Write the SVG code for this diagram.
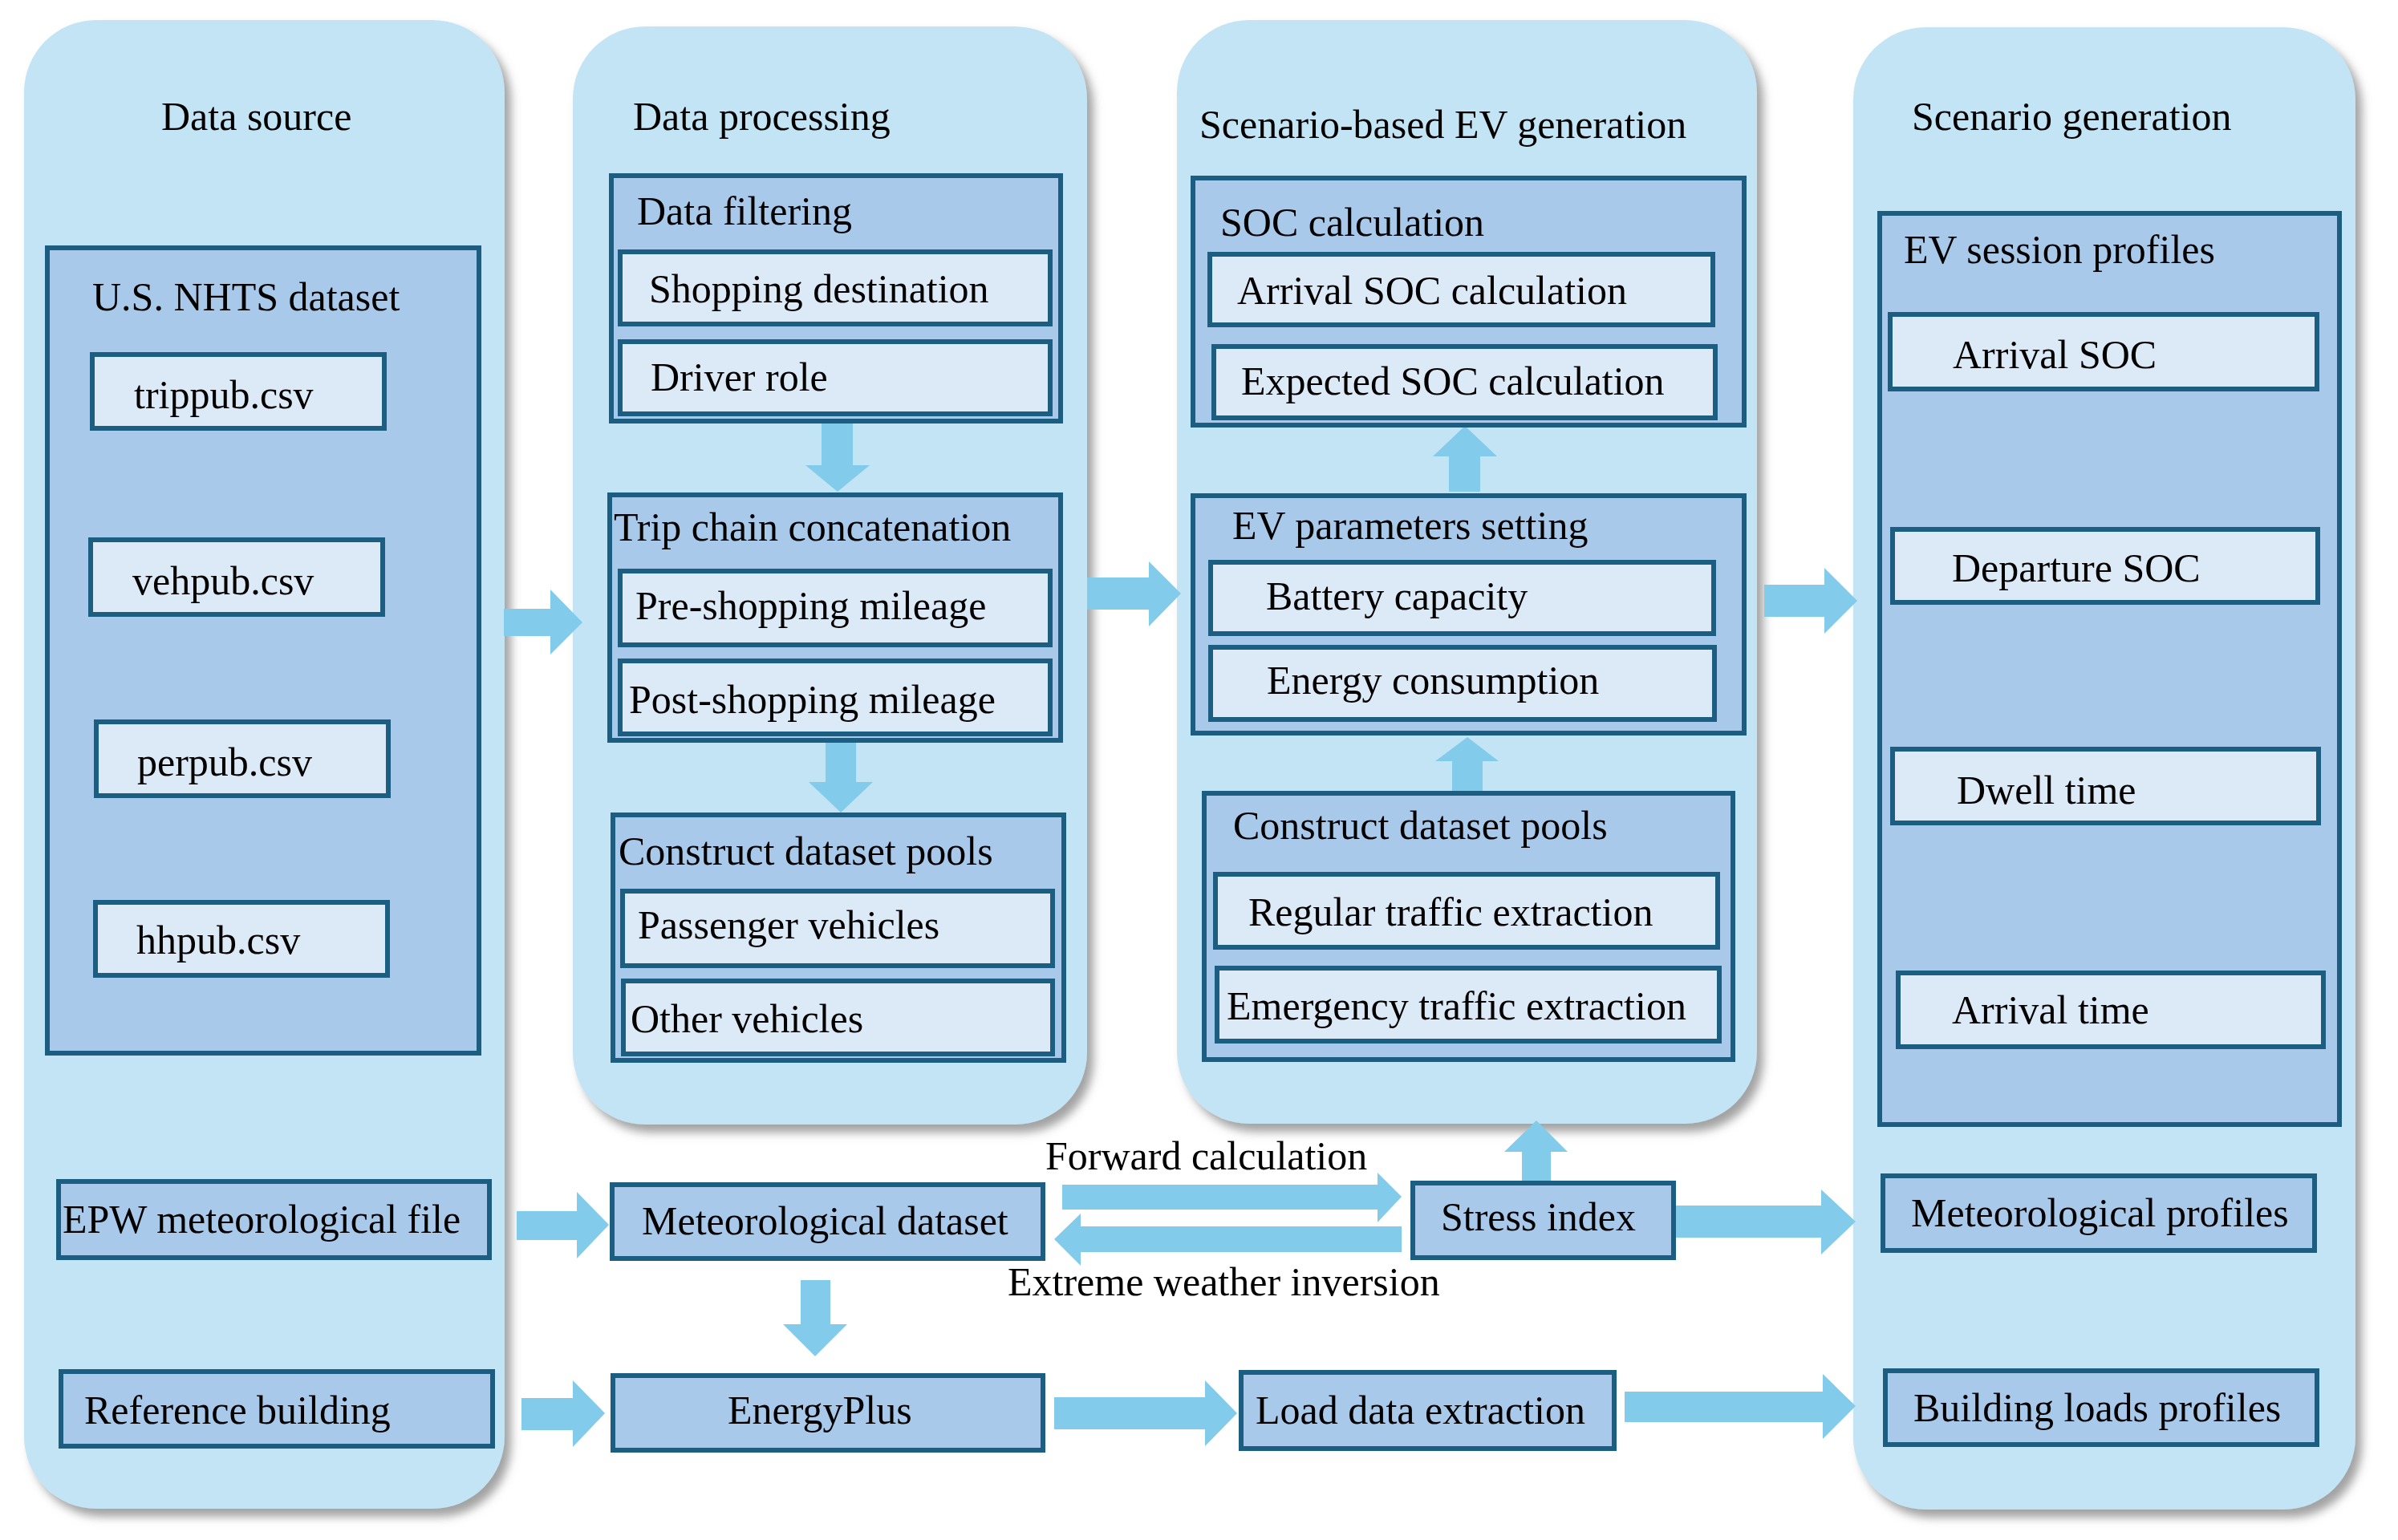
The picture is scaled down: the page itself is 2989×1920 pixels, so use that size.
<svg xmlns="http://www.w3.org/2000/svg" width="2989" height="1920" viewBox="0 0 2989 1920">
<defs>
<filter id="sh" x="-10%" y="-10%" width="125%" height="125%">
<feDropShadow dx="8" dy="10" stdDeviation="6" flood-color="#6f6f6f" flood-opacity="0.65"/>
</filter>
<style>
.col{fill:#C2E4F4;filter:url(#sh)}
.mid{fill:#A8C9EA;stroke:#1B5E82;stroke-width:6}
.lt{fill:#DCE9F6;stroke:#1B5E82;stroke-width:6}
.arr{fill:#83CBEA}
text{font-family:"Liberation Serif","Times New Roman",serif;font-size:50px;fill:#000}
</style>
</defs>
<rect width="2989" height="1920" fill="#ffffff"/>

<g id="col-data-source"><rect class="col" x="30" y="25" width="599" height="1856" rx="90"/><text x="201" y="162">Data source</text></g>
<g id="col-data-processing"><rect class="col" x="714" y="33" width="641" height="1369" rx="90"/><text x="789" y="162">Data processing</text></g>
<g id="col-ev-generation"><rect class="col" x="1467" y="25" width="723" height="1376" rx="90"/><text x="1495" y="172">Scenario-based EV generation</text></g>
<g id="col-scenario-generation"><rect class="col" x="2310" y="34" width="626" height="1848" rx="90"/><text x="2383" y="162">Scenario generation</text></g>

<g id="connectors">
<polygon class="arr" points="628,759 686,759 686,735 726,776 686,816 686,793 628,793"/>
<polygon class="arr" points="1355,720 1432,720 1432,700 1472,740 1432,781 1432,760 1355,760"/>
<polygon class="arr" points="2199,729 2274,729 2274,708 2315,749 2274,790 2274,769 2199,769"/>
<polygon class="arr" points="1024,528 1063,528 1063,580 1084,580 1044,613 1004,580 1024,580"/>
<polygon class="arr" points="1029,926 1067,926 1067,975 1088,975 1048,1013 1008,975 1029,975"/>
<polygon class="arr" points="1806,613 1845,613 1845,569 1866,569 1826,531 1786,569 1806,569"/>
<polygon class="arr" points="1810,986 1848,986 1848,949 1868,949 1829,919 1789,949 1810,949"/>
<polygon class="arr" points="644,1510 719,1510 719,1486 759,1527 719,1569 719,1546 644,1546"/>
<polygon class="arr" points="650,1743 714,1743 714,1721 754,1762 714,1804 714,1783 650,1783"/>
<polygon class="arr" points="998,1596 1035,1596 1035,1651 1056,1651 1016,1691 976,1651 998,1651"/>
<polygon class="arr" points="1324,1477 1717,1477 1717,1462 1747,1492 1717,1524 1717,1508 1324,1508"/>
<polygon class="arr" points="1747,1529 1347,1529 1347,1513 1314,1545 1347,1578 1347,1561 1747,1561"/>
<polygon class="arr" points="1897,1472 1933,1472 1933,1436 1954,1436 1915,1397 1875,1436 1897,1436"/>
<polygon class="arr" points="2089,1503 2270,1503 2270,1483 2313,1523 2270,1564 2270,1543 2089,1543"/>
<polygon class="arr" points="1314,1742 1502,1742 1502,1721 1542,1762 1502,1803 1502,1782 1314,1782"/>
<polygon class="arr" points="2025,1735 2272,1735 2272,1713 2313,1753 2272,1794 2272,1773 2025,1773"/>
<text x="1303" y="1458">Forward calculation</text>
<text x="1256" y="1615">Extreme weather inversion</text>
</g>

<g id="nhts"><rect class="mid" x="59" y="309" width="538" height="1004"/><text x="115" y="387">U.S. NHTS dataset</text></g>
<g id="trippub"><rect class="lt" x="115" y="442" width="364" height="92"/><text x="167" y="509">trippub.csv</text></g>
<g id="vehpub"><rect class="lt" x="113" y="673" width="364" height="93"/><text x="165" y="741">vehpub.csv</text></g>
<g id="perpub"><rect class="lt" x="120" y="900" width="364" height="92"/><text x="171" y="967">perpub.csv</text></g>
<g id="hhpub"><rect class="lt" x="119" y="1125" width="364" height="91"/><text x="170" y="1189">hhpub.csv</text></g>
<g id="epw"><rect class="mid" x="73" y="1473" width="537" height="95"/><text x="78" y="1537">EPW meteorological file</text></g>
<g id="refbuilding"><rect class="mid" x="76" y="1710" width="538" height="93"/><text x="105" y="1775">Reference building</text></g>

<g id="filtering"><rect class="mid" x="762" y="219" width="560" height="306"/><text x="794" y="280">Data filtering</text></g>
<g id="shopping"><rect class="lt" x="773" y="314" width="536" height="90"/><text x="809" y="377">Shopping destination</text></g>
<g id="driver"><rect class="lt" x="773" y="426" width="536" height="90"/><text x="811" y="487">Driver role</text></g>
<g id="tripchain"><rect class="mid" x="760" y="617" width="562" height="306"/><text x="765" y="674">Trip chain concatenation</text></g>
<g id="preshop"><rect class="lt" x="773" y="712" width="536" height="92"/><text x="792" y="772">Pre-shopping mileage</text></g>
<g id="postshop"><rect class="lt" x="773" y="824" width="536" height="91"/><text x="784" y="889">Post-shopping mileage</text></g>
<g id="pools2"><rect class="mid" x="764" y="1016" width="562" height="306"/><text x="771" y="1078">Construct dataset pools</text></g>
<g id="passenger"><rect class="lt" x="776" y="1111" width="536" height="93"/><text x="795" y="1170">Passenger vehicles</text></g>
<g id="other"><rect class="lt" x="777" y="1223" width="535" height="91"/><text x="786" y="1287">Other vehicles</text></g>

<g id="metdataset"><rect class="mid" x="763" y="1477" width="537" height="92"/><text x="800" y="1539">Meteorological dataset</text></g>
<g id="energyplus"><rect class="mid" x="764" y="1715" width="536" height="93"/><text x="907" y="1775">EnergyPlus</text></g>
<g id="stress"><rect class="mid" x="1761" y="1475" width="325" height="93"/><text x="1796" y="1534">Stress index</text></g>
<g id="loadextract"><rect class="mid" x="1547" y="1711" width="465" height="95"/><text x="1565" y="1775">Load data extraction</text></g>

<g id="soc"><rect class="mid" x="1487" y="222" width="687" height="308"/><text x="1521" y="294">SOC calculation</text></g>
<g id="arrsoc"><rect class="lt" x="1508" y="317" width="627" height="88"/><text x="1542" y="379">Arrival SOC calculation</text></g>
<g id="expsoc"><rect class="lt" x="1513" y="432" width="625" height="89"/><text x="1547" y="492">Expected SOC calculation</text></g>
<g id="evparams"><rect class="mid" x="1487" y="618" width="687" height="296"/><text x="1536" y="672">EV parameters setting</text></g>
<g id="battery"><rect class="lt" x="1509" y="701" width="627" height="89"/><text x="1578" y="760">Battery capacity</text></g>
<g id="energycons"><rect class="lt" x="1509" y="807" width="628" height="90"/><text x="1579" y="865">Energy consumption</text></g>
<g id="pools3"><rect class="mid" x="1501" y="989" width="659" height="332"/><text x="1537" y="1046">Construct dataset pools</text></g>
<g id="regular"><rect class="lt" x="1515" y="1090" width="626" height="91"/><text x="1556" y="1154">Regular traffic extraction</text></g>
<g id="emergency"><rect class="lt" x="1517" y="1207" width="626" height="91"/><text x="1529" y="1271">Emergency traffic extraction</text></g>

<g id="evsession"><rect class="mid" x="2343" y="266" width="573" height="1136"/><text x="2373" y="328">EV session profiles</text></g>
<g id="arrivalsoc"><rect class="lt" x="2356" y="392" width="532" height="93"/><text x="2434" y="459">Arrival SOC</text></g>
<g id="departuresoc"><rect class="lt" x="2359" y="660" width="530" height="91"/><text x="2433" y="725">Departure SOC</text></g>
<g id="dwell"><rect class="lt" x="2359" y="934" width="531" height="92"/><text x="2439" y="1002">Dwell time</text></g>
<g id="arrtime"><rect class="lt" x="2366" y="1213" width="530" height="92"/><text x="2433" y="1276">Arrival time</text></g>
<g id="metprof"><rect class="mid" x="2347" y="1466" width="538" height="93"/><text x="2382" y="1529">Meteorological profiles</text></g>
<g id="buildprof"><rect class="mid" x="2350" y="1709" width="538" height="92"/><text x="2385" y="1772">Building loads profiles</text></g>
</svg>
